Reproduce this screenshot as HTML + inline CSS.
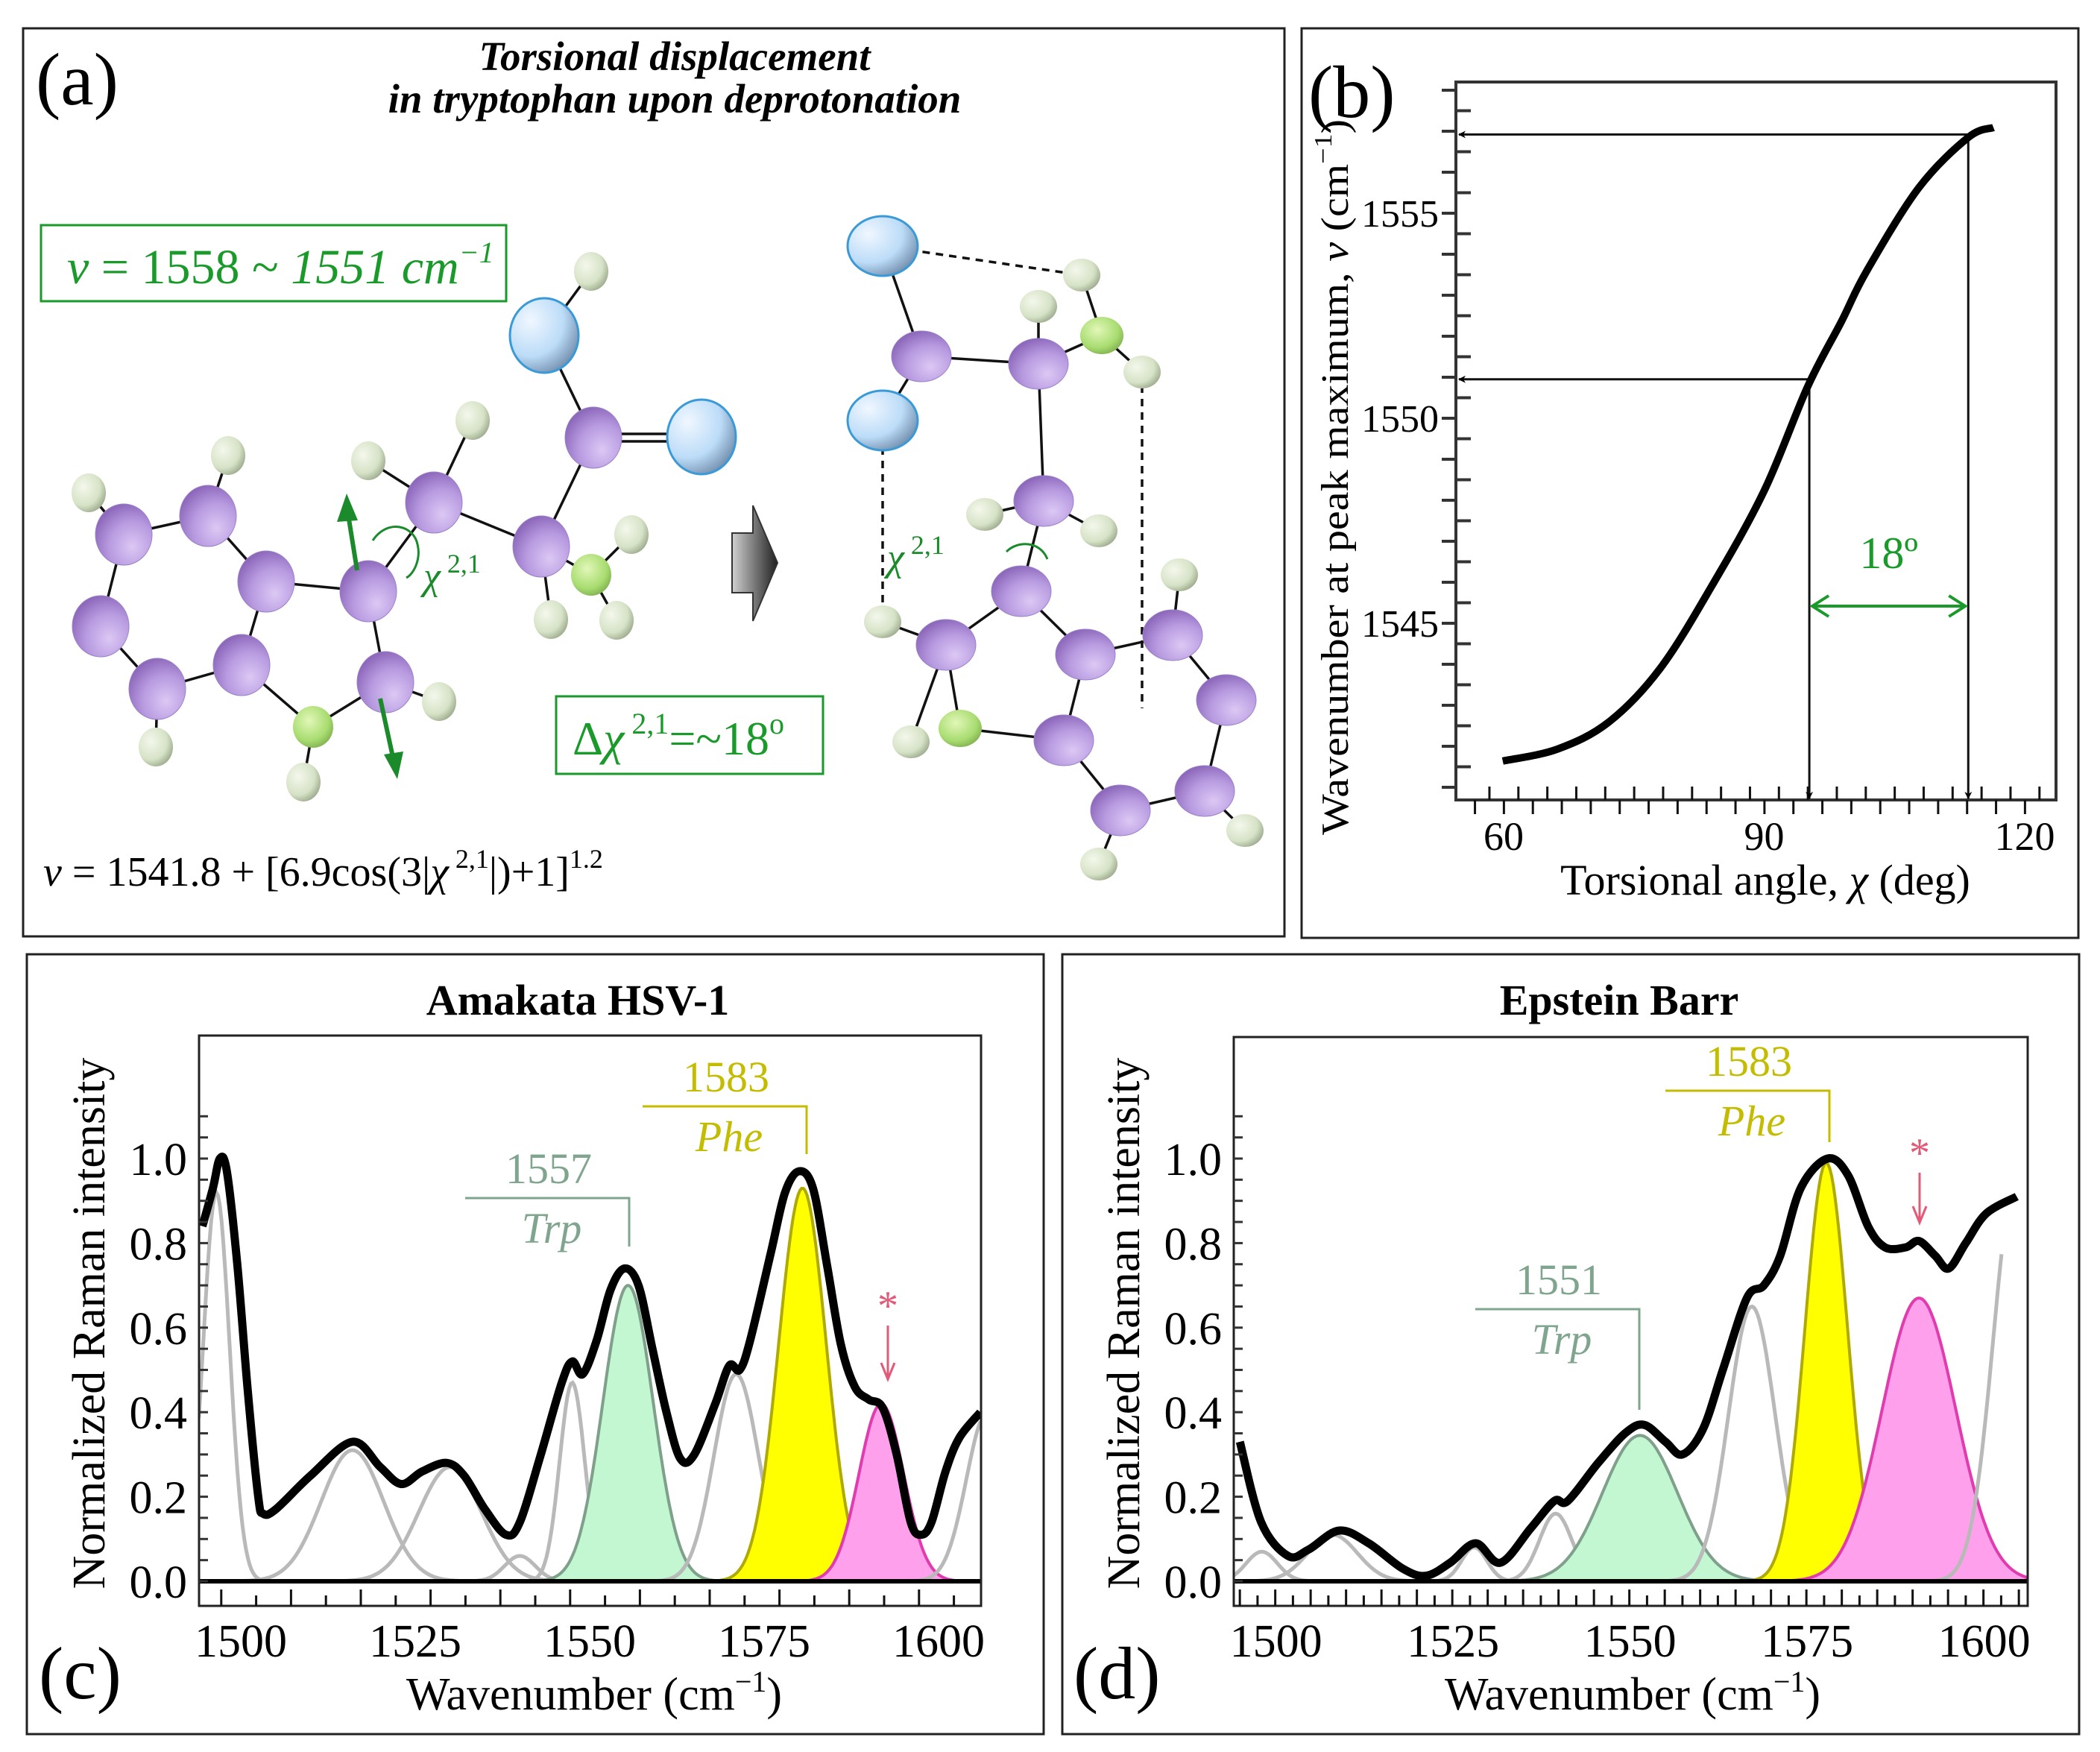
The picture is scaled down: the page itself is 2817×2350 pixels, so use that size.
<!DOCTYPE html>
<html><head><meta charset="utf-8"><style>
html,body{margin:0;padding:0;background:#fff;}
svg{display:block;}
text{font-family:"Liberation Serif",serif;}
</style></head>
<body>
<svg id="fig" xmlns="http://www.w3.org/2000/svg" width="2817" height="2350" viewBox="0 0 2817 2350">
<defs>
<radialGradient id="gP" cx="0.65" cy="0.7" r="0.75"><stop offset="0" stop-color="#dcc8f4"/><stop offset="0.55" stop-color="#b79ae0"/><stop offset="1" stop-color="#8a64b8"/></radialGradient>
<radialGradient id="gB" cx="0.3" cy="0.3" r="0.8"><stop offset="0" stop-color="#f0f7ff"/><stop offset="0.6" stop-color="#bcdcf8"/><stop offset="1" stop-color="#6e8aa8"/></radialGradient>
<radialGradient id="gH" cx="0.35" cy="0.35" r="0.8"><stop offset="0" stop-color="#f4f8ec"/><stop offset="0.6" stop-color="#d6e2c6"/><stop offset="1" stop-color="#8a9678"/></radialGradient>
<radialGradient id="gG" cx="0.4" cy="0.35" r="0.8"><stop offset="0" stop-color="#e2f7b8"/><stop offset="0.6" stop-color="#a8dc70"/><stop offset="1" stop-color="#6f9a40"/></radialGradient>
<linearGradient id="gArrow" x1="0" y1="0" x2="1" y2="0"><stop offset="0" stop-color="#d0d0d0"/><stop offset="1" stop-color="#202020"/></linearGradient>
<clipPath id="clipC"><rect x="267" y="1389" width="1049" height="765"/></clipPath>
<clipPath id="clipD"><rect x="1655" y="1391" width="1065" height="763"/></clipPath>
<marker id="mk" viewBox="0 0 20 20" refX="18" refY="10" markerWidth="10" markerHeight="10" markerUnits="userSpaceOnUse" orient="auto"><path d="M0,0 L20,10 L0,20 L6,10 Z" fill="#000"/></marker>
</defs>

<!-- panel borders -->
<rect x="31" y="38" width="1692" height="1218" fill="none" stroke="#222" stroke-width="3"/>
<rect x="1746" y="38" width="1042" height="1220" fill="none" stroke="#222" stroke-width="3"/>
<rect x="36" y="1280" width="1364" height="1046" fill="none" stroke="#222" stroke-width="3"/>
<rect x="1425" y="1280" width="1364" height="1046" fill="none" stroke="#222" stroke-width="3"/>

<!-- ================= PANEL A ================= -->
<g id="panelA">
<text x="48" y="140" font-size="100">(a)</text>
<text x="905" y="94" font-size="55" font-weight="bold" font-style="italic" text-anchor="middle">Torsional displacement</text>
<text x="905" y="151" font-size="55" font-weight="bold" font-style="italic" text-anchor="middle">in tryptophan upon deprotonation</text>
<rect x="55" y="302" width="624" height="102" fill="none" stroke="#1a9a2a" stroke-width="3"/>
<text x="90" y="380" font-size="66" fill="#1a9a2a"><tspan font-style="italic">ν</tspan> = 1558 ~ <tspan font-style="italic">1551 cm</tspan><tspan font-size="40" dy="-28" font-style="italic">−1</tspan></text>
<rect x="746" y="934" width="358" height="104" fill="none" stroke="#1a9a2a" stroke-width="3"/>
<text x="768" y="1012" font-size="64" fill="#1a9a2a">Δ<tspan font-style="italic">χ</tspan><tspan font-size="40" dy="-28"> 2,1</tspan><tspan dy="28">=~18</tspan><tspan font-size="40" dy="-28">o</tspan></text>
<text x="58" y="1188" font-size="56"><tspan font-style="italic">ν</tspan> = 1541.8 + [6.9cos(3|<tspan font-style="italic">χ</tspan><tspan font-size="36" dy="-24"> 2,1</tspan><tspan dy="24">|)+1]</tspan><tspan font-size="36" dy="-24">1.2</tspan></text>
<polygon points="982,715 1010,715 1010,678 1043,755 1010,833 1010,795 982,795" fill="url(#gArrow)" stroke="#333" stroke-width="2"/>

<g stroke="#111" stroke-width="3.5" fill="none">
<path d="M166,717L279,692M166,717L135,840M135,840L211,924M211,924L324,892M324,892L357,780M357,780L279,692M357,780L494,793M494,793L517,915M517,915L420,975M420,975L324,892M494,793L582,674M582,674L726,733M726,733L796,587M796,587L730,450M730,450L793,364M726,733L793,771M582,674L634,564M582,674L494,618M166,717L119,661M279,692L306,611M211,924L209,1002M420,975L407,1049M517,915L589,941M793,771L847,717M793,771L827,832M726,733L739,831"/>
<path d="M796,582L941,582M796,592L941,592"/>
<path d="M1184,330L1236,478M1236,478L1184,564M1236,478L1393,488M1393,488L1478,450M1478,450L1451,369M1478,450L1532,499M1393,488L1393,411M1393,488L1400,672M1400,672L1321,690M1400,672L1474,712M1400,672L1370,793M1370,793L1269,865M1370,793L1456,878M1269,865L1222,995M1269,865L1288,977M1288,977L1427,993M1427,993L1456,878M1456,878L1573,852M1573,852L1582,771M1573,852L1645,939M1645,939L1616,1061M1616,1061L1670,1114M1616,1061L1503,1087M1503,1087L1474,1159M1503,1087L1427,993M1184,834L1269,865"/>
<path stroke-dasharray="10,8" d="M1184,330L1451,369M1184,564L1184,834M1532,499L1532,950"/>
</g>
<g stroke-width="1">
<g fill="url(#gH)">
<ellipse cx="119" cy="661" rx="23" ry="26"/><ellipse cx="306" cy="611" rx="23" ry="26"/><ellipse cx="634" cy="564" rx="23" ry="26"/><ellipse cx="494" cy="618" rx="23" ry="26"/><ellipse cx="793" cy="364" rx="23" ry="26"/><ellipse cx="847" cy="717" rx="23" ry="26"/><ellipse cx="739" cy="831" rx="23" ry="26"/><ellipse cx="827" cy="832" rx="23" ry="26"/><ellipse cx="209" cy="1002" rx="23" ry="26"/><ellipse cx="407" cy="1049" rx="23" ry="26"/><ellipse cx="589" cy="941" rx="23" ry="26"/>
<ellipse cx="1451" cy="369" rx="25" ry="22"/><ellipse cx="1393" cy="411" rx="25" ry="22"/><ellipse cx="1532" cy="499" rx="25" ry="22"/><ellipse cx="1321" cy="690" rx="25" ry="22"/><ellipse cx="1474" cy="712" rx="25" ry="22"/><ellipse cx="1184" cy="834" rx="25" ry="22"/><ellipse cx="1582" cy="771" rx="25" ry="22"/><ellipse cx="1222" cy="995" rx="25" ry="22"/><ellipse cx="1670" cy="1114" rx="25" ry="22"/><ellipse cx="1474" cy="1159" rx="25" ry="22"/>
</g>
<g fill="url(#gG)"><ellipse cx="420" cy="975" rx="27" ry="28"/><ellipse cx="793" cy="771" rx="27" ry="28"/><ellipse cx="1478" cy="450" rx="29" ry="25"/><ellipse cx="1288" cy="977" rx="29" ry="25"/></g>
<g fill="url(#gP)" stroke="#9a80c8">
<ellipse cx="166" cy="717" rx="38" ry="41"/><ellipse cx="279" cy="692" rx="38" ry="41"/><ellipse cx="357" cy="780" rx="38" ry="41"/><ellipse cx="494" cy="793" rx="38" ry="41"/><ellipse cx="135" cy="840" rx="38" ry="41"/><ellipse cx="211" cy="924" rx="38" ry="41"/><ellipse cx="324" cy="892" rx="38" ry="41"/><ellipse cx="517" cy="915" rx="38" ry="41"/><ellipse cx="582" cy="674" rx="38" ry="41"/><ellipse cx="726" cy="733" rx="38" ry="41"/><ellipse cx="796" cy="587" rx="38" ry="41"/>
<ellipse cx="1236" cy="478" rx="40" ry="34"/><ellipse cx="1393" cy="488" rx="40" ry="34"/><ellipse cx="1400" cy="672" rx="40" ry="34"/><ellipse cx="1370" cy="793" rx="40" ry="34"/><ellipse cx="1269" cy="865" rx="40" ry="34"/><ellipse cx="1456" cy="878" rx="40" ry="34"/><ellipse cx="1573" cy="852" rx="40" ry="34"/><ellipse cx="1645" cy="939" rx="40" ry="34"/><ellipse cx="1616" cy="1061" rx="40" ry="34"/><ellipse cx="1503" cy="1087" rx="40" ry="34"/><ellipse cx="1427" cy="993" rx="40" ry="34"/>
</g>
<g fill="url(#gB)" stroke="#3a9ad8" stroke-width="3"><ellipse cx="730" cy="450" rx="46" ry="50"/><ellipse cx="941" cy="586" rx="46" ry="50"/><ellipse cx="1184" cy="330" rx="47" ry="40"/><ellipse cx="1184" cy="564" rx="47" ry="40"/></g>
</g>
<g stroke="#1a8a2a" stroke-width="6" fill="#1a8a2a">
<line x1="479" y1="765" x2="467" y2="690"/><polygon points="465,662 452,700 480,698" stroke="none"/>
<line x1="510" y1="937" x2="528" y2="1020"/><polygon points="533,1045 515,1012 541,1008" stroke="none"/>
</g>
<path d="M500,725 C520,695 555,705 560,730 C565,750 555,770 545,775" fill="none" stroke="#1a8a2a" stroke-width="3"/>
<text x="568" y="790" font-size="52" fill="#1a8a2a" font-style="italic">χ<tspan font-size="36" dy="-22" font-style="normal"> 2,1</tspan></text>
<path d="M1350,740 C1365,725 1395,725 1405,750" fill="none" stroke="#1a8a2a" stroke-width="3"/>
<text x="1190" y="765" font-size="52" fill="#1a8a2a" font-style="italic">χ<tspan font-size="36" dy="-22" font-style="normal"> 2,1</tspan></text>
</g>

<!-- ================= PANEL B ================= -->
<g id="panelB">
<text x="1755" y="157" font-size="100">(b)</text>
<rect x="1953" y="110" width="805" height="963" fill="none" stroke="#333" stroke-width="4"/>
<g id="bTicks"></g>
<g id="bMarks"></g>
<text transform="translate(1808,640) rotate(-90)" font-size="52" text-anchor="middle" textLength="960" lengthAdjust="spacingAndGlyphs">Wavenumber at peak maximum, <tspan font-style="italic">ν</tspan> (cm<tspan font-size="34" dy="-22">−1</tspan><tspan dy="22">)</tspan></text>
<text x="2368" y="1200" font-size="58" text-anchor="middle">Torsional angle, <tspan font-style="italic">χ</tspan> (deg)</text>
</g>

<!-- ================= PANEL C ================= -->
<g id="panelC">
<text x="52" y="2278" font-size="100">(c)</text>
<text x="775" y="1361" font-size="58" font-weight="bold" text-anchor="middle">Amakata HSV-1</text>
<g id="cMarks"></g>
<rect x="267" y="1389" width="1049" height="765" fill="none" stroke="#222" stroke-width="3"/>
<g id="cTicks"></g>
<text transform="translate(140,1775) rotate(-90)" font-size="62" text-anchor="middle">Normalized Raman intensity</text>
<text x="797" y="2293" font-size="62" text-anchor="middle">Wavenumber (cm<tspan font-size="40" dy="-24">−1</tspan><tspan dy="24">)</tspan></text>
</g>

<!-- ================= PANEL D ================= -->
<g id="panelD">
<text x="1440" y="2278" font-size="100">(d)</text>
<text x="2172" y="1361" font-size="58" font-weight="bold" text-anchor="middle">Epstein Barr</text>
<g id="dMarks"></g>
<rect x="1655" y="1391" width="1065" height="763" fill="none" stroke="#222" stroke-width="3"/>
<g id="dTicks"></g>
<text transform="translate(1528,1775) rotate(-90)" font-size="62" text-anchor="middle">Normalized Raman intensity</text>
<text x="2190" y="2293" font-size="62" text-anchor="middle">Wavenumber (cm<tspan font-size="40" dy="-24">−1</tspan><tspan dy="24">)</tspan></text>
</g>
</svg>

<script>
// ---------- Panel B data ----------
const bAngles = [59.9, 66.2, 72.1, 78.0, 84.0, 90.0, 95.0, 98.9, 101.8, 107.8, 113.5, 116.4];
const bWavenumbers = [1541.64, 1541.93, 1542.59, 1543.89, 1545.92, 1548.23, 1550.77, 1552.36, 1553.59, 1555.62, 1556.85, 1557.09];
const bMarkerAngles = [95.2, 113.5];
const bMarkerWavenumbers = [1550.95, 1556.92];
const bYTickLabels = [1545, 1550, 1555];
const bXTickLabels = [60, 90, 120];

// ---------- Panel C data ----------
const cWn = [1494.5,1496,1497,1498,1499.5,1501,1502.5,1503.2,1505,1510,1516,1520,1523,1526,1529.5,1532,1535,1538,1540,1543,1546,1547.5,1549,1551,1553,1555,1557,1559,1561,1563,1565,1568,1570,1571.5,1573,1576,1578,1580,1582,1584,1586,1588,1590,1592,1594,1596,1597.5,1599,1601,1603,1606];
const cInt = [0.84,0.93,1.0,0.97,0.75,0.45,0.2,0.16,0.17,0.25,0.33,0.27,0.23,0.26,0.28,0.25,0.17,0.11,0.14,0.3,0.47,0.52,0.49,0.57,0.69,0.74,0.7,0.55,0.4,0.29,0.3,0.42,0.51,0.5,0.57,0.78,0.92,0.97,0.93,0.75,0.56,0.46,0.43,0.41,0.3,0.14,0.11,0.14,0.26,0.34,0.4];
const cCompCenters = [1496.5,1516,1530,1540,1547.5,1555.5,1571,1580.5,1591.8,1607];
const cCompHeights = [0.92,0.31,0.27,0.06,0.47,0.70,0.49,0.93,0.42,0.40];
const cCompWidths  = [1.9,4.5,4.5,2.2,1.8,3.6,3.2,3.4,3.2,3.0];
const cCompKinds   = ['gray','gray','gray','gray','gray','trp','gray','phe','star','gray'];
const cYTicks = [0.0,0.2,0.4,0.6,0.8,1.0];
const cXTicks = [1500,1525,1550,1575,1600];
const cAnnotWn = [1557,1583];

// ---------- Panel D data ----------
const dWn = [1494.9,1497.9,1501.7,1504.6,1508.9,1513.1,1517.9,1521.2,1524.6,1528.2,1531.7,1536,1539.3,1541.2,1545.5,1549.3,1552,1555,1557.4,1560.3,1563.1,1566.5,1568.9,1571.2,1574.1,1577.9,1580.8,1583.6,1586,1588.9,1590.8,1593.1,1595,1597.4,1600.3,1604.6];
const dInt = [0.33,0.14,0.06,0.075,0.12,0.09,0.03,0.013,0.044,0.09,0.044,0.126,0.19,0.19,0.28,0.35,0.37,0.33,0.30,0.36,0.50,0.67,0.70,0.77,0.93,1.0,0.96,0.84,0.79,0.79,0.805,0.77,0.74,0.80,0.87,0.91];
const dCompCenters = [1498,1508,1528,1539.5,1551.4,1567.2,1577.7,1590.8,1604.5];
const dCompHeights = [0.07,0.11,0.08,0.16,0.345,0.65,0.99,0.67,0.95];
const dCompWidths  = [2.2,3.5,1.8,2.3,5.3,3.3,3.0,5.2,3.2];
const dCompKinds   = ['gray','gray','gray','gray','trp','gray','phe','star','gray'];
const dCompMaxWn   = [1606,1606,1606,1606,1606,1606,1606,1606,1602.5];
const dYTicks = [0.0,0.2,0.4,0.6,0.8,1.0];
const dXTicks = [1500,1525,1550,1575,1600];
const dAnnotWn = [1551,1583];

const NS = 'http://www.w3.org/2000/svg';
function mk(tag, attrs, parent, txt){
  const e = document.createElementNS(NS, tag);
  for (const k in attrs) e.setAttribute(k, attrs[k]);
  if (txt !== undefined) e.textContent = txt;
  parent.appendChild(e);
  return e;
}
function smoothPath(pts){
  let d = 'M' + pts[0][0].toFixed(1) + ',' + pts[0][1].toFixed(1);
  for (let i = 0; i < pts.length - 1; i++){
    const p0 = pts[i-1] || pts[i], p1 = pts[i], p2 = pts[i+1], p3 = pts[i+2] || p2;
    const c1x = p1[0] + (p2[0]-p0[0])/6, c1y = p1[1] + (p2[1]-p0[1])/6;
    const c2x = p2[0] - (p3[0]-p1[0])/6, c2y = p2[1] - (p3[1]-p1[1])/6;
    d += 'C' + c1x.toFixed(1)+','+c1y.toFixed(1)+' '+c2x.toFixed(1)+','+c2y.toFixed(1)+' '+p2[0].toFixed(1)+','+p2[1].toFixed(1);
  }
  return d;
}

// ---------- Panel B render ----------
(function(){
  const xb = a => 2017 + (a - 60) * 11.65;
  const yb = v => 561 - (v - 1550) * 55;
  const tg = document.getElementById('bTicks');
  const mg = document.getElementById('bMarks');
  for (let v = 1541; v <= 1558.01; v += 0.5){
    const isInt = Math.abs(v - Math.round(v)) < 0.01;
    const t = mk('line', {x1: isInt ? 1934 : 1953, x2: isInt ? 1953 : 1973, y1: yb(v), y2: yb(v), stroke:'#333','stroke-width':4}, tg);
    
    
  }
  for (let a = 56.7, i = 0; a <= 123; a += 5/3, i++){
    const out = i % 2 === 0;
    const t = mk('line', {x1: xb(a), x2: xb(a), y1: out ? 1073 : 1055, y2: out ? 1092 : 1073, stroke:'#111','stroke-width':3}, tg);
    
    
  }
  bYTickLabels.forEach(v => {
    const t = mk('text', {x: 1930, y: yb(v) + 18, 'font-size': 52, 'text-anchor': 'end'}, tg, String(v));
    
    
  });
  bXTickLabels.forEach(v => {
    const t = mk('text', {x: xb(v), y: 1140, 'font-size': 54, 'text-anchor': 'middle'}, tg, String(v));
    
    
  });
  bMarkerAngles.forEach((a, i) => {
    const v = bMarkerWavenumbers[i];
    const h = mk('line', {x1: xb(a), y1: yb(v), x2: 1957, y2: yb(v), stroke:'#111','stroke-width':3,'marker-end':'url(#mk)'}, mg);
    
    
    const vl = mk('line', {x1: xb(a), y1: yb(v), x2: xb(a), y2: 1071, stroke:'#111','stroke-width':3,'marker-end':'url(#mk)'}, mg);
    
    
  });
  const c = mk('path', {d: smoothPath(bAngles.map((a, i) => [xb(a), yb(bWavenumbers[i])])), fill:'none', stroke:'#000','stroke-width':10,'stroke-linecap':'butt'}, mg);
  
  
  const x1 = xb(bMarkerAngles[0]), x2 = xb(bMarkerAngles[1]), yy = 813;
  const g = mk('path', {d: `M${x1+4},${yy}L${x2-4},${yy}M${x1+26},${yy-14}L${x1+4},${yy}L${x1+26},${yy+14}M${x2-26},${yy-14}L${x2-4},${yy}L${x2-26},${yy+14}`, fill:'none', stroke:'#1a9a2a','stroke-width':4}, mg);
  
  
  const t = mk('text', {x: (x1+x2)/2, y: 762, 'font-size': 60, fill:'#1a9a2a','text-anchor':'middle'}, mg, '18º');
  
  
})();

// ---------- Spectrum renderer ----------
function renderSpectrum(opt){
  const {mg, tg, gx, gy, wn, val, cc, ch, cw, ck, cmax, yT, xT, annot, xmin, xmax, axisL, axisB, clip, annotCfg, starCfg, tickStart, tickStep, prefix} = opt;
  const styles = {
    gray: {fill:'none', stroke:'#b9b9b9', sw:5},
    trp: {fill:'#c2f7d2', stroke:'#7fa08a', sw:4},
    phe: {fill:'#ffff00', stroke:'#b0aa00', sw:4},
    star:{fill:'#ffa0ec', stroke:'#e03cae', sw:4}
  };
  const cg = mk('g', {'clip-path': 'url(#' + clip + ')'}, mg);
  cc.forEach((c, i) => {
    const s = styles[ck[i]];
    const lim = cmax ? Math.min(xmax, cmax[i]) : xmax;
    const lo = Math.max(xmin, c - 4 * cw[i]), hi = Math.min(lim, c + 4 * cw[i]);
    const pts = [];
    for (let w = lo; w <= hi + 1e-6; w += 0.25){
      pts.push([gx(w), gy(ch[i] * Math.exp(-0.5 * Math.pow((w - c) / cw[i], 2)))]);
    }
    let d = 'M' + pts.map(p => p[0].toFixed(1) + ',' + p[1].toFixed(1)).join('L');
    if (s.fill !== 'none') d += `L${gx(hi).toFixed(1)},${gy(0)}L${gx(lo).toFixed(1)},${gy(0)}Z`;
    const p = mk('path', {d: d, fill: s.fill, stroke: s.stroke, 'stroke-width': s.sw}, cg);
    
    
  });
  const z = mk('line', {x1: axisL, x2: gx(xmax), y1: gy(0), y2: gy(0), stroke:'#000', 'stroke-width': 6}, cg);
  
  
  const bc = mk('path', {d: smoothPath(wn.map((w, i) => [gx(w), gy(val[i])])), fill:'none', stroke:'#000', 'stroke-width': 11, 'stroke-linejoin':'round'}, cg);
  
  
  for (let v = 0; v <= 1.15; v += 0.05){
    const t = mk('line', {x1: axisL, x2: axisL + 12, y1: gy(v), y2: gy(v), stroke:'#333', 'stroke-width': 3}, tg);
    
    
  }
  for (let w = tickStart, i = 0; w <= xmax; w += tickStep, i++){
    const t = mk('line', {x1: gx(w), x2: gx(w), y1: axisB, y2: axisB - (i % 2 ? 14 : 22), stroke:'#111', 'stroke-width': 3}, tg);
    
    
  }
  yT.forEach(v => {
    const t = mk('text', {x: axisL - 16, y: gy(v) + 22, 'font-size': 62, 'text-anchor':'end'}, tg, v.toFixed(1));
    
    
  });
  xT.forEach(w => {
    const t = mk('text', {x: gx(w), y: 2222, 'font-size': 62, 'text-anchor':'middle'}, tg, String(w));
    
    
  });
  annotCfg.forEach((a, i) => {
    const xr = a.lineX;
    const l = mk('path', {d: `M${xr-220},${a.lineY}L${xr},${a.lineY}L${xr},${a.lineBottom}`, fill:'none', stroke:a.color, 'stroke-width':3}, mg);
    
    
    const t1 = mk('text', {x: xr - 108, y: a.lineY - 20, 'font-size': 58, fill: a.color, 'text-anchor':'middle'}, mg, String(annot[i]));
    
    
    const t2 = mk('text', {x: xr - 104, y: a.lineY + 60, 'font-size': 58, fill: a.color, 'font-style':'italic', 'text-anchor':'middle'}, mg, a.label);
    
    
  });
  const st = mk('text', {x: starCfg.x, y: starCfg.y, 'font-size': 56, fill:'#e25a78', 'text-anchor':'middle'}, mg, '*');
  
  
  const sa = mk('path', {d:`M${starCfg.x},${starCfg.y+8}L${starCfg.x},${starCfg.y2}M${starCfg.x-9},${starCfg.y2-22}L${starCfg.x},${starCfg.y2}L${starCfg.x+9},${starCfg.y2-22}`, fill:'none', stroke:'#e25a78','stroke-width':3}, mg);
  
  
}

const gxC = w => 323 + (w - 1500) * 9.36;
const gxD = w => 1711.6 + (w - 1500) * 9.5;
const gyS = v => 2121 - v * 567;
renderSpectrum({mg: document.getElementById('cMarks'), tg: document.getElementById('cTicks'), gx: gxC, gy: gyS,
  wn: cWn, val: cInt, cc: cCompCenters, ch: cCompHeights, cw: cCompWidths, ck: cCompKinds, cmax: null, yT: cYTicks, xT: cXTicks, annot: cAnnotWn,
  xmin: 1494.0, xmax: 1606.1, axisL: 267, axisB: 2154, clip: 'clipC', tickStart: 1497.2, tickStep: 5, prefix: 'c',
  annotCfg: [{name:'trp', label:'Trp', color:'#7fa58e', lineX: 844, lineY: 1607, lineBottom: 1672},
             {name:'phe', label:'Phe', color:'#c4bc00', lineX: 1082, lineY: 1484, lineBottom: 1548}],
  starCfg: {x: 1191, y: 1770, y2: 1850}});
renderSpectrum({mg: document.getElementById('dMarks'), tg: document.getElementById('dTicks'), gx: gxD, gy: gyS,
  wn: dWn, val: dInt, cc: dCompCenters, ch: dCompHeights, cw: dCompWidths, ck: dCompKinds, cmax: dCompMaxWn, yT: dYTicks, xT: dXTicks, annot: dAnnotWn,
  xmin: 1494.0, xmax: 1606.1, axisL: 1655, axisB: 2154, clip: 'clipD', tickStart: 1494.9, tickStep: 2.5, prefix: 'd',
  annotCfg: [{name:'trp', label:'Trp', color:'#7fa58e', lineX: 2199, lineY: 1756, lineBottom: 1891},
             {name:'phe', label:'Phe', color:'#c4bc00', lineX: 2454, lineY: 1463, lineBottom: 1532}],
  starCfg: {x: 2575, y: 1565, y2: 1640}});
</script>
</body></html>
